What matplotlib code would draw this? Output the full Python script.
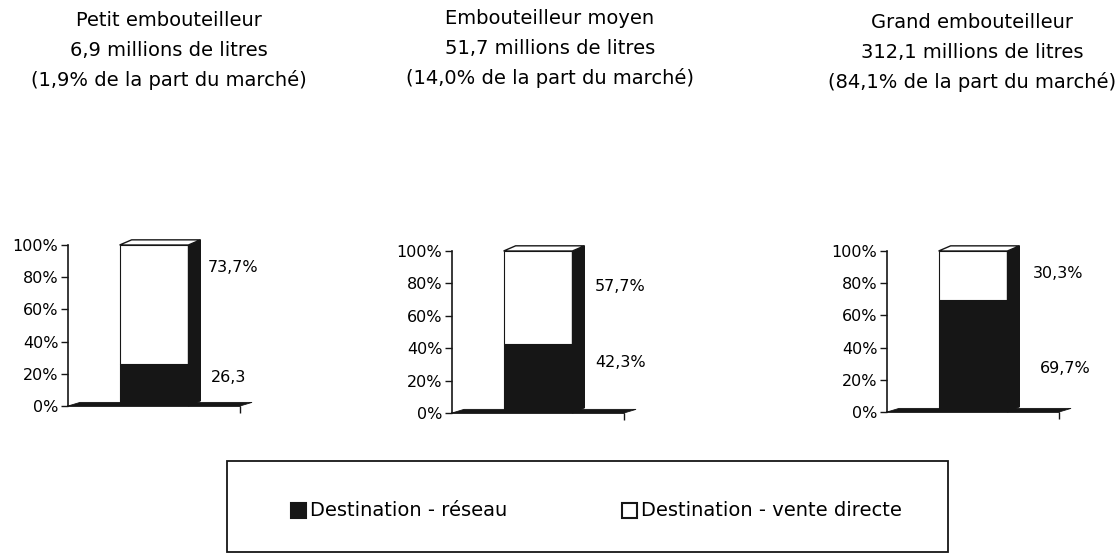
import matplotlib.pyplot as plt
from matplotlib.patches import Polygon, Rectangle

plt.rcParams['font.family'] = ['DejaVu Sans']

# data
titles = [
    ['Petit embouteilleur', '6,9 millions de litres', '(1,9% de la part du marché)'],
    ['Embouteilleur moyen', '51,7 millions de litres', '(14,0% de la part du marché)'],
    ['Grand embouteilleur', '312,1 millions de litres', '(84,1% de la part du marché)'],
]
reseau = [26.3, 42.3, 69.7]
vente_directe = [73.7, 57.7, 30.3]
labels_reseau = ['26,3', '42,3%', '69,7%']
labels_vente = ['73,7%', '57,7%', '30,3%']
series_names = ['Destination - réseau', 'Destination - vente directe']
yticks = [0, 20, 40, 60, 80, 100]
ytick_labels = ['0%', '20%', '40%', '60%', '80%', '100%']

# layout (pixels of a 1117x556 canvas)
W, H = 1117, 556
panel_px = [(68, 245, 406), (452, 251, 413), (887, 251, 412)]  # left, top, bottom
panel_w = 172
title_cx = [169, 550, 972]
title_y0 = [21, 19, 23]
lab_y = [(86, 18), (78, 31), (86, 27)]
lab_x = [(0.81, 0.83), (0.83, 0.83), (0.85, 0.89)]

dark = '#161616'
dx, dy = 0.07, 3.2
x0, bw = 0.30, 0.40

fig = plt.figure(figsize=(W / 100, H / 100), dpi=100)

for i in range(3):
    left, top, bottom = panel_px[i]
    ax = fig.add_axes([left / W, 1 - bottom / H, panel_w / W, (bottom - top) / H])
    ax.set_xlim(0, 1)
    ax.set_ylim(0, 100)
    # floor
    ax.add_patch(Polygon([(0, 0), (dx, dy * 0.7), (1 + dx, dy * 0.7), (1, 0)], closed=True,
                         facecolor=dark, edgecolor=dark, lw=0.6, clip_on=False, zorder=1))
    # front faces
    ax.bar(x0 + bw / 2, reseau[i], width=bw, color=dark, edgecolor=dark, lw=0.8, zorder=3)
    ax.bar(x0 + bw / 2, vente_directe[i], bottom=reseau[i], width=bw, color='white',
           edgecolor=dark, lw=0.8, zorder=3)
    total = reseau[i] + vente_directe[i]
    # side face
    ax.add_patch(Polygon([(x0 + bw, 0), (x0 + bw + dx, dy), (x0 + bw + dx, total + dy),
                          (x0 + bw, total)], closed=True, facecolor=dark, edgecolor=dark,
                         lw=0.8, clip_on=False, zorder=3))
    # top face
    ax.add_patch(Polygon([(x0, total), (x0 + dx, total + dy), (x0 + bw + dx, total + dy),
                          (x0 + bw, total)], closed=True, facecolor='white', edgecolor=dark,
                         lw=1.0, clip_on=False, zorder=4))
    ax.text(lab_x[i][0], lab_y[i][0], labels_vente[i], fontsize=11.5, va='center')
    ax.text(lab_x[i][1], lab_y[i][1], labels_reseau[i], fontsize=11.5, va='center')

    ax.set_yticks(yticks)
    ax.set_yticklabels(ytick_labels, fontsize=11.5)
    ax.set_xticks([1])
    ax.set_xticklabels([''])
    ax.tick_params(direction='out', length=5, width=1, color=dark, pad=2)
    for s in ['top', 'right']:
        ax.spines[s].set_visible(False)
    for s in ['left', 'bottom']:
        ax.spines[s].set_color(dark)
        ax.spines[s].set_linewidth(1.2)
    ax.patch.set_visible(False)

    for j, line in enumerate(titles[i]):
        fig.text(title_cx[i] / W, 1 - (title_y0[i] + 29.5 * j) / H, line, fontsize=14,
                 ha='center', va='center')

# legend box
fig.patches.append(Rectangle((227 / W, 1 - 552 / H), (948 - 227) / W, (552 - 461) / H,
                             transform=fig.transFigure, facecolor='white',
                             edgecolor=dark, lw=1.3))
colors = [dark, 'white']
leg_x = [291, 622]
for k in range(2):
    fig.patches.append(Rectangle((leg_x[k] / W, 1 - 518 / H), 15 / W, 15 / H,
                                 transform=fig.transFigure, facecolor=colors[k],
                                 edgecolor=dark, lw=1.5))
    fig.text((leg_x[k] + 19) / W, 1 - 510 / H, series_names[k], fontsize=14, va='center')

fig.savefig('out.png', dpi=100)
